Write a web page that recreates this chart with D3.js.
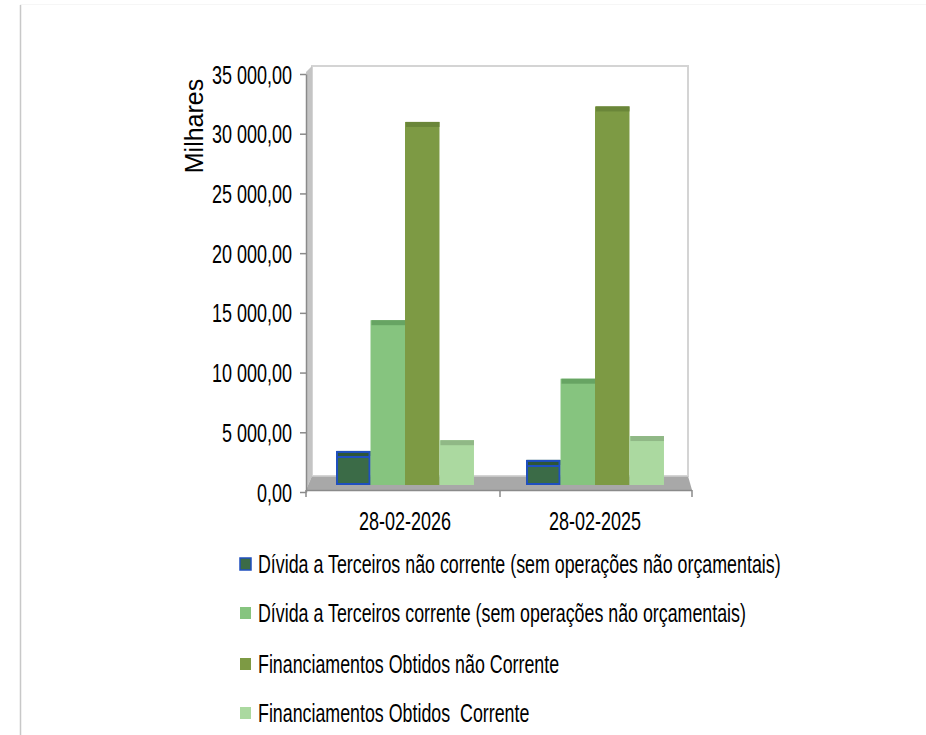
<!DOCTYPE html>
<html><head><meta charset="utf-8">
<script src="https://cdn.jsdelivr.net/npm/d3@7"></script>
<style>
html,body{margin:0;padding:0;background:#fff;}
svg{display:block;}
text{font-family:"Liberation Sans",Arial,sans-serif;fill:#000;}
</style></head>
<body>
<svg id="chart" width="926" height="735"></svg>
<script>
const categories = ["28-02-2026", "28-02-2025"];
const seriesNames = [
  "Dívida a Terceiros não corrente (sem operações não orçamentais)",
  "Dívida a Terceiros corrente (sem operações não orçamentais)",
  "Financiamentos Obtidos não Corrente",
  "Financiamentos Obtidos  Corrente"
];
const dividaNaoCorrente = [2850, 2100];
const dividaCorrente = [13800, 8900];
const financNaoCorrente = [30400, 31700];
const financCorrente = [3750, 4100];
const yTicks = [0, 5000, 10000, 15000, 20000, 25000, 30000, 35000];
const yTitle = "Milhares";

const seriesValues = [dividaNaoCorrente, dividaCorrente, financNaoCorrente, financCorrente];
const fills = ["#3B6B47", "#86C47F", "#7D9A44", "#ABD9A0"];
const tops = ["#2E5538", "#67A463", "#6A8639", "#90B886"];
const strokes = ["#1F4FBF", null, null, null];
const SX = 0.72;
const SXL = 0.713;

const svg = d3.select("#chart");

// outer frame line
svg.append("line").attr("x1", 20.5).attr("x2", 20.5).attr("y1", 5).attr("y2", 735)
  .attr("stroke", "#c8c8c8").attr("stroke-width", 1.5);
svg.append("line").attr("x1", 20).attr("x2", 926).attr("y1", 4.5).attr("y2", 4.5)
  .attr("stroke", "#f6f6f6").attr("stroke-width", 1);

// scales
const yAxisScale = d3.scaleLinear().domain([0, 35000]).range([492, 74]);
const yBar = d3.scaleLinear().domain([0, 35000]).range([485, 67]);
const x0 = d3.scaleBand().domain(categories).range([310, 690]).paddingInner(0.274).paddingOuter(0.137);
const x1 = d3.scaleBand().domain(d3.range(seriesNames.length)).range([0, x0.bandwidth()]);

// back wall
svg.append("rect").attr("x", 312).attr("y", 66).attr("width", 376).attr("height", 410)
  .attr("fill", "#fff").attr("stroke", "#d4d4d4").attr("stroke-width", 2);
// left side wall
svg.append("polygon").attr("points", "306,72 312,66 312,476 306,490")
  .attr("fill", "#c4c4c4");
// floor
svg.append("polygon").attr("points", "312,476 688,476 692,490 306,490")
  .attr("fill", "#a8a8a8");
svg.append("line").attr("x1", 312).attr("x2", 688).attr("y1", 476.5).attr("y2", 476.5)
  .attr("stroke", "#c6c6c6");

// y axis
const loc = d3.formatLocale({decimal: ",", thousands: " ", grouping: [3], currency: ["", ""]});
const fmt = loc.format(",.2f");
const yAx = svg.append("g").attr("transform", "translate(306,0)")
  .call(d3.axisLeft(yAxisScale).tickValues(yTicks).tickFormat(fmt).tickSize(6).tickSizeOuter(0));
yAx.select(".domain").attr("stroke", "#8a8a8a").attr("stroke-width", 1.5);
yAx.selectAll(".tick line").attr("stroke", "#8a8a8a").attr("stroke-width", 1.5);
yAx.selectAll(".tick text")
  .attr("x", null).attr("dy", null)
  .attr("transform", `translate(-14,9) scale(${SX},1)`)
  .attr("text-anchor", "end")
  .style("font-size", "25px").style("font-family", "'Liberation Sans',Arial,sans-serif").attr("fill", "#000");

// y title
svg.append("text").attr("transform", "translate(203,126) rotate(-90)")
  .attr("text-anchor", "middle").style("font-size", "25px").text(yTitle);

// category axis
const xAx = svg.append("g").attr("transform", "translate(0,490)")
  .call(d3.axisBottom(x0).tickSize(0).tickSizeOuter(0));
xAx.select(".domain").attr("stroke", "#8a8a8a").attr("stroke-width", 1.5).attr("d", "M306,0.5H692");
xAx.selectAll(".tick text")
  .attr("y", null).attr("dy", null)
  .attr("transform", `translate(0,40) scale(${SX},1)`)
  .style("font-size", "25px").style("font-family", "'Liberation Sans',Arial,sans-serif").attr("fill", "#000");
const bounds = [306, (x0(categories[0]) + x0.bandwidth() + x0(categories[1])) / 2, 692];
svg.append("g").selectAll("line").data(bounds).join("line")
  .attr("x1", d => d).attr("x2", d => d).attr("y1", 490).attr("y2", 497)
  .attr("stroke", "#8a8a8a").attr("stroke-width", 1.5);

// bars
const data = [];
categories.forEach((c, ci) => seriesValues.forEach((s, si) => data.push({c, si, v: s[ci]})));
const bars = svg.append("g").selectAll("g").data(data).join("g");
bars.append("rect")
  .attr("x", d => x0(d.c) + x1(d.si))
  .attr("y", d => yBar(d.v))
  .attr("width", x1.bandwidth())
  .attr("height", d => yBar(0) - yBar(d.v))
  .attr("fill", d => fills[d.si]);
bars.append("rect")
  .attr("x", d => x0(d.c) + x1(d.si) + 1)
  .attr("y", d => yBar(d.v))
  .attr("width", x1.bandwidth() - 1)
  .attr("height", 5)
  .attr("fill", d => tops[d.si]);
bars.filter(d => strokes[d.si]).append("rect")
  .attr("x", d => x0(d.c) + x1(d.si) + 1)
  .attr("y", d => yBar(d.v) + 1)
  .attr("width", x1.bandwidth() - 2)
  .attr("height", d => yBar(0) - yBar(d.v) - 2)
  .attr("fill", "none").attr("stroke", d => strokes[d.si]).attr("stroke-width", 2);
bars.filter(d => strokes[d.si]).append("line")
  .attr("x1", d => x0(d.c) + x1(d.si) + 1)
  .attr("x2", d => x0(d.c) + x1(d.si) + x1.bandwidth() - 1)
  .attr("y1", d => yBar(d.v) + 6).attr("y2", d => yBar(d.v) + 6)
  .attr("stroke", d => strokes[d.si]).attr("stroke-width", 2);

// legend
const legY = [564, 613, 664, 713];
const leg = svg.append("g").selectAll("g").data(seriesNames).join("g")
  .attr("transform", (d, i) => `translate(240,${legY[i]})`);
leg.append("rect").attr("x", 0).attr("y", -6).attr("width", 11).attr("height", 12)
  .attr("fill", (d, i) => fills[i])
  .attr("stroke", (d, i) => strokes[i] || "none").attr("stroke-width", 1.5);
leg.append("text")
  .attr("transform", `translate(18,9) scale(${SXL},1)`)
  .style("font-size", "25px").style("white-space", "pre")
  .attr("xml:space", "preserve")
  .text(d => d);
</script>
</body></html>
